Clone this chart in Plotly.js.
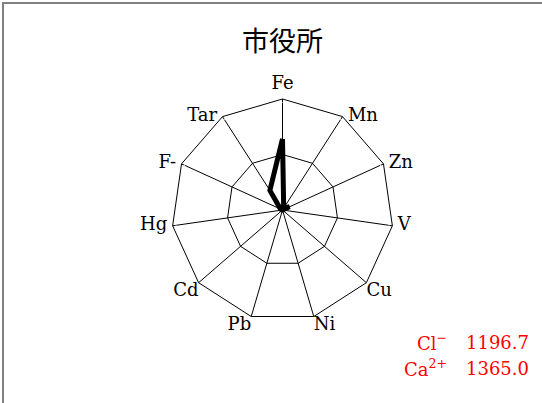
<!DOCTYPE html>
<html>
<head>
<meta charset="utf-8">
<script src="https://cdn.plot.ly/plotly-3.0.1.min.js"></script>
<style>html,body{margin:0;padding:0;background:#fff}#chart{width:542px;height:403px}</style>
</head>
<body>
<div id="chart"></div>
<script>
const categories = ["Fe","Mn","Zn","V","Cu","Ni","Pb","Cd","Hg","F-","Tar"];
const values = [0.64, 0.02, 0.07, 0.0, 0.0, 0.0, 0.0, 0.0, 0.0, 0.02, 0.21];
const ringTicks = [0.5, 1.0];
const noteLabels = ["Cl<sup>−</sup>", "Ca<sup>2+</sup>"];
const noteValues = ["1196.7", "1365.0"];
const chartTitle = "市役所";

const serif = "DejaVu Serif, Liberation Serif, serif";
const n = categories.length;

const trace = {
  type: "scatterpolar",
  r: values.concat([values[0]]),
  theta: categories.concat([categories[0]]),
  mode: "lines",
  line: {color: "#000", width: 5},
  hoverinfo: "skip",
  showlegend: false
};

// label placement for each spoke (by angle)
function labelPos(i) {
  const a = i * 360 / n;
  if (i === 0) return "top center";
  const side = a < 180 ? "right" : "left";
  const vert = (a > 115 && a < 245) ? "bottom" : "middle";
  return vert + " " + side;
}
function labelSize(i) {
  const a = i * 360 / n;
  return (a > 115 && a < 245) ? 0 : 7;
}

const labelTrace = {
  type: "scatterpolar",
  r: categories.map(() => 1),
  theta: categories,
  mode: "markers+text",
  marker: {size: categories.map((c, i) => labelSize(i)), color: "rgba(0,0,0,0)"},
  text: categories,
  textposition: categories.map((c, i) => labelPos(i)),
  textfont: {family: serif, size: 18, color: "#000"},
  cliponaxis: false,
  hoverinfo: "skip",
  showlegend: false
};

const W = 542, H = 403;
const cx = 282.5, cy = 210, R = 111;

const annotations = [];
noteLabels.forEach((lab, i) => {
  const y = 342 + i * 26;
  annotations.push({xref:"paper", yref:"paper", x:(449)/W, y:1 - y/H, xanchor:"right", yanchor:"middle",
    text: lab, showarrow:false, font:{family:serif, size:18, color:"#ff0000"}});
  annotations.push({xref:"paper", yref:"paper", x:(531)/W, y:1 - y/H, xanchor:"right", yanchor:"middle",
    text: noteValues[i], showarrow:false, font:{family:serif, size:18, color:"#ff0000"}});
});

const layout = {
  width: W, height: H,
  margin: {l:0, r:0, t:0, b:0},
  paper_bgcolor: "#fff",
  title: {text: chartTitle, x: cx/W, xanchor:"center", y: 1 - 42/H, yanchor:"middle",
    font: {family: "Noto Sans CJK JP, Noto Sans CJK SC, sans-serif", size: 27, color: "#000"}},
  polar: {
    domain: {x: [(cx-R)/W, (cx+R)/W], y: [1-(cy+R)/H, 1-(cy-R)/H]},
    gridshape: "linear",
    bgcolor: "rgba(0,0,0,0)",
    radialaxis: {range:[0,1], tickvals: ringTicks, showticklabels:false, ticks:"",
      showline:false, gridcolor:"#000", gridwidth:1},
    angularaxis: {rotation:90, direction:"clockwise", ticks:"", showline:true, linecolor:"#000", linewidth:1,
      gridcolor:"#000", gridwidth:1, showticklabels:false}
  },
  shapes: [{type:"rect", xref:"paper", yref:"paper", x0: 3/W, x1: 1.2, y0: -0.2, y1: 1 - 3/H,
    line:{color:"#808080", width:2}, fillcolor:"rgba(0,0,0,0)"}],
  annotations: annotations
};

Plotly.newPlot("chart", [trace, labelTrace], layout, {displayModeBar:false, staticPlot:true});
</script>
</body>
</html>
